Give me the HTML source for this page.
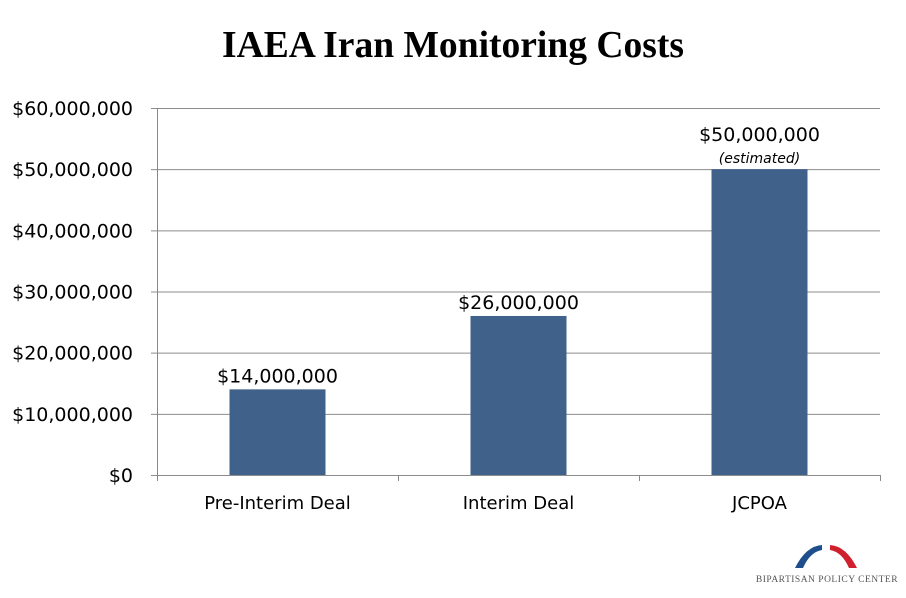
<!DOCTYPE html>
<html><head><meta charset="utf-8"><style>
body{margin:0;background:#fff;width:906px;height:598px;overflow:hidden}
svg{display:block}
</style></head><body>
<svg width="906" height="598" id="c" font-family="'DejaVu Sans', 'Liberation Sans', sans-serif">
<text x="453" y="57" text-anchor="middle" font-family="'Liberation Serif', serif" font-size="38" font-weight="bold" textLength="462" lengthAdjust="spacingAndGlyphs" fill="#000">IAEA Iran Monitoring Costs</text>
<g id="grid"></g><g id="bars"></g>
<g>
<path d="M795,568 Q806,546 822,545 L822,550 Q810,552 803,568 Z" fill="#1f4e8c"/>
<path d="M857,568 Q846,546 830,545 L830,550 Q842,552 849,568 Z" fill="#d0202e"/>
<text x="827" y="582" text-anchor="middle" font-family="'Liberation Serif', serif" font-size="9.5" fill="#555" letter-spacing="0.5">BIPARTISAN POLICY CENTER</text>
</g>
</svg>
<script>
const categories=["Pre-Interim Deal","Interim Deal","JCPOA"];
const values=[14000000,26000000,50000000];
const valueLabels=["$14,000,000","$26,000,000","$50,000,000"];
const yTicks=[0,10000000,20000000,30000000,40000000,50000000,60000000];
const yTickLabels=["$0","$10,000,000","$20,000,000","$30,000,000","$40,000,000","$50,000,000","$60,000,000"];
const NS="http://www.w3.org/2000/svg";
const L=157,R=880,T=108,B=475,YMAX=60000000;
const y=v=>B-(v/YMAX)*(B-T);
const bw=(R-L)/categories.length;
const x=i=>L+bw*(i+0.5);
function mk(t,a,p){const e=document.createElementNS(NS,t);for(const k in a)e.setAttribute(k,a[k]);p.appendChild(e);return e;}
const g=document.getElementById('grid'),bg=document.getElementById('bars');
yTicks.forEach((v,i)=>{
 const ln=mk('line',{x1:L-6,x2:R,y1:y(v)+0.5,y2:y(v)+0.5,stroke:'#8c8c8c','stroke-width':1},g);
 
 
 const t=mk('text',{x:133,y:y(v)+7,'text-anchor':'end','font-size':19,fill:'#000'},g);
 t.textContent=yTickLabels[i];
 
 
});
const ax=mk('line',{x1:L+0.5,x2:L+0.5,y1:T,y2:B,stroke:'#888'},g);


for(let i=0;i<=categories.length;i++){
 const tk=mk('line',{x1:L+bw*i+0.5,x2:L+bw*i+0.5,y1:B,y2:B+6,stroke:'#888'},g);
 
 
}
categories.forEach((c,i)=>{
 const r=mk('rect',{x:x(i)-48,y:y(values[i]),width:96,height:B-y(values[i]),fill:'#3f618a'},bg);
 
 
 const vl=mk('text',{x:x(i),y:y(values[i])-(i==2?28:7),'text-anchor':'middle','font-size':19,fill:'#000'},bg);
 vl.textContent=valueLabels[i];
 
 
 const cl=mk('text',{x:x(i),y:509,'text-anchor':'middle','font-size':18,fill:'#000'},bg);
 cl.textContent=c;
 
 
});
const est=mk('text',{x:x(2),y:y(values[2])-6,'text-anchor':'middle','font-size':14,'font-style':'italic',fill:'#000'},bg);
est.textContent="(estimated)";


</script>
</body></html>
